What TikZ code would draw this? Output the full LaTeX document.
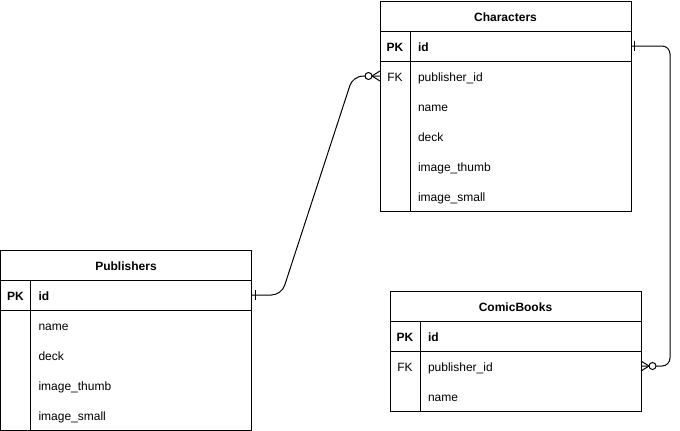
\documentclass[tikz,border=0pt]{standalone}
\usepackage{fontspec}
\setmainfont{Liberation Sans}
\usetikzlibrary{positioning}

\begin{document}
\begin{tikzpicture}[x=1pt,y=-1pt,node distance=0pt,line width=1pt,
    every node/.style={font=\fontsize{12}{14}\selectfont,outer sep=0pt,inner sep=0pt,
      text height=10.5pt,text depth=0.5pt},
    tblhead/.style={draw,anchor=north west,minimum width=251pt,minimum height=30pt,
      font=\fontsize{12}{14}\selectfont\bfseries},
    keycol/.style={minimum width=30pt,minimum height=30pt},
    field/.style={minimum height=30pt,text width=205pt,inner xsep=8pt,align=left},
    keybold/.style={font=\fontsize{12}{14}\selectfont\bfseries}]
  \useasboundingbox (0,0) rectangle (680,431);

  % Characters
  \node[tblhead] (chr) at (380,1) {Characters};
  \node[keycol,keybold,anchor=north west] (chrk1) at (chr.south west) {PK};
  \node[field,keybold,right=of chrk1] (chrid) {id};
  \node[keycol,below=of chrk1] (chrk2) {FK};
  \node[field,right=of chrk2] (chrpub) {publisher\_id};
  \node[keycol,below=of chrk2] (chrk3) {};
  \node[field,right=of chrk3] (chrname) {name};
  \node[keycol,below=of chrk3] (chrk4) {};
  \node[field,right=of chrk4] (chrdeck) {deck};
  \node[keycol,below=of chrk4] (chrk5) {};
  \node[field,right=of chrk5] (chrthumb) {image\_thumb};
  \node[keycol,below=of chrk5] (chrk6) {};
  \node[field,right=of chrk6] (chrsmall) {image\_small};
  \draw (chrk1.north west) rectangle (chrid.south east);
  \draw (chr.north west) rectangle (chrsmall.south east);
  \draw (chrk1.north east) -- (chrk1.north east |- chrsmall.south);

  % Publishers
  \node[tblhead] (pub) at (0.5,250) {Publishers};
  \node[keycol,keybold,anchor=north west] (pubk1) at (pub.south west) {PK};
  \node[field,keybold,right=of pubk1] (pubid) {id};
  \node[keycol,below=of pubk1] (pubk2) {};
  \node[field,right=of pubk2] (pubname) {name};
  \node[keycol,below=of pubk2] (pubk3) {};
  \node[field,right=of pubk3] (pubdeck) {deck};
  \node[keycol,below=of pubk3] (pubk4) {};
  \node[field,right=of pubk4] (pubthumb) {image\_thumb};
  \node[keycol,below=of pubk4] (pubk5) {};
  \node[field,right=of pubk5] (pubsmall) {image\_small};
  \draw (pubk1.north west) rectangle (pubid.south east);
  \draw (pub.north west) rectangle (pubsmall.south east);
  \draw (pubk1.north east) -- (pubk1.north east |- pubsmall.south);

  % ComicBooks
  \node[tblhead] (cb) at (390,291) {ComicBooks};
  \node[keycol,keybold,anchor=north west] (cbk1) at (cb.south west) {PK};
  \node[field,keybold,right=of cbk1] (cbid) {id};
  \node[keycol,below=of cbk1] (cbk2) {FK};
  \node[field,right=of cbk2] (cbpub) {publisher\_id};
  \node[keycol,below=of cbk2] (cbk3) {};
  \node[field,right=of cbk3] (cbname) {name};
  \draw (cbk1.north west) rectangle (cbid.south east);
  \draw (cb.north west) rectangle (cbname.south east);
  \draw (cbk1.north east) -- (cbk1.north east |- cbname.south);

  % Publishers -> Characters
  \coordinate (p1) at ([xshift=30pt]pubid.east);
  \coordinate (p2) at ([xshift=-27pt]chrk2.west);
  \draw[rounded corners=10pt] (pubid.east) -- (p1) -- (p2) -- (chrk2.west);
  \draw ([xshift=4pt,yshift=5pt]pubid.east) -- ([xshift=4pt,yshift=-5pt]pubid.east);
  \draw ([xshift=-8pt]chrk2.west) -- ([yshift=5pt]chrk2.west)
        ([xshift=-8pt]chrk2.west) -- ([yshift=-5pt]chrk2.west);
  \draw[fill=white] ([xshift=-11.5pt]chrk2.west) circle[radius=3.5pt];

  % Characters -> ComicBooks
  \coordinate (c1) at ([xshift=39pt]chrid.east);
  \draw[rounded corners=8pt] (chrid.east) -- (c1) -- (c1 |- cbpub.east) -- (cbpub.east);
  \draw ([xshift=3pt,yshift=5pt]chrid.east) -- ([xshift=3pt,yshift=-5pt]chrid.east);
  \draw ([xshift=8pt]cbpub.east) -- ([yshift=5pt]cbpub.east)
        ([xshift=8pt]cbpub.east) -- ([yshift=-5pt]cbpub.east);
  \draw[fill=white] ([xshift=11.5pt]cbpub.east) circle[radius=3.5pt];
\end{tikzpicture}
\end{document}
